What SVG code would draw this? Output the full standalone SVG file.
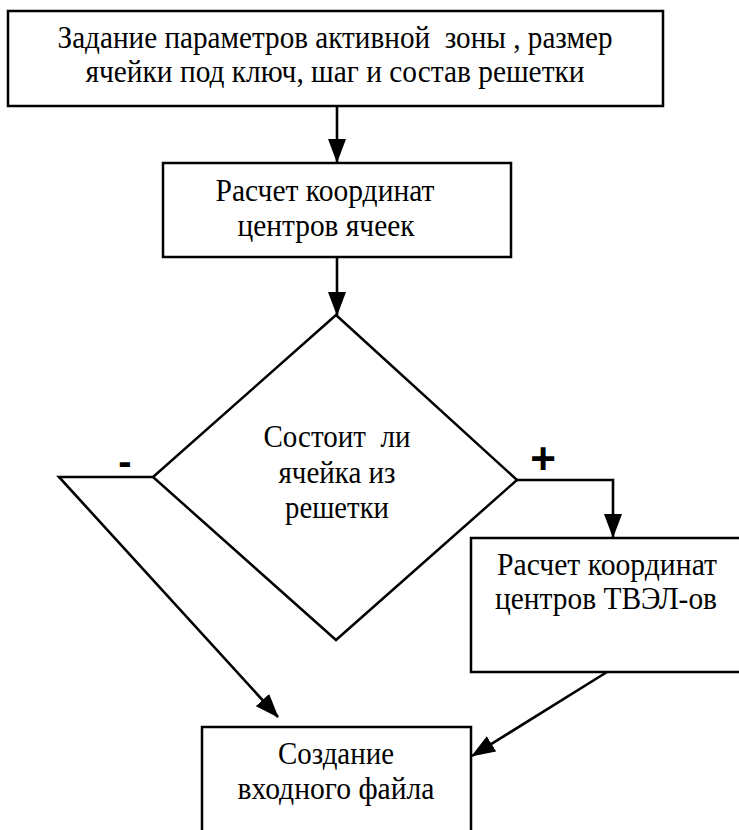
<svg xmlns="http://www.w3.org/2000/svg" width="739" height="830" viewBox="0 0 739 830">
<style>
.box{fill:#fff;stroke:#000;stroke-width:2.5}
.ln{fill:none;stroke:#000;stroke-width:2.6}
text{font-family:"Liberation Serif","Times New Roman",serif;font-size:32px;fill:#000;text-anchor:middle}
text.sm{font-size:31px}
text.minus{font-family:"Liberation Sans",Arial,sans-serif;font-weight:bold;font-size:40px}
text.plus{font-family:"Liberation Sans",Arial,sans-serif;font-weight:bold;font-size:44px}
</style>
<defs>
<marker id="arr" markerUnits="userSpaceOnUse" markerWidth="26" markerHeight="18" refX="23" refY="9" orient="auto">
<path d="M0,0 L24,9 L0,18 z" fill="#000"/>
</marker>
</defs>
<rect width="739" height="830" fill="#fff"/>
<g id="connectors">
<line class="ln" x1="337" y1="106" x2="337" y2="162" marker-end="url(#arr)"/>
<line class="ln" x1="337" y1="257" x2="337" y2="315" marker-end="url(#arr)"/>
<polyline class="ln" points="517,480 613,480 613,537" marker-end="url(#arr)"/>
<polyline class="ln" points="153,477 59,477 278,717" marker-end="url(#arr)"/>
<line class="ln" x1="607" y1="672" x2="472" y2="756" marker-end="url(#arr)"/>
<text class="minus" x="125" y="475">-</text>
<text class="plus" x="543" y="474">+</text>
</g>
<g id="start">
<rect class="box" x="8" y="11" width="655" height="95"/>
<text x="335" y="48" xml:space="preserve" textLength="555" lengthAdjust="spacingAndGlyphs">Задание параметров активной  зоны , размер</text>
<text x="335" y="82" textLength="499" lengthAdjust="spacingAndGlyphs">ячейки под ключ, шаг и состав решетки</text>
</g>
<g id="calc-cells">
<rect class="box" x="163" y="163" width="348" height="94"/>
<text x="325" y="201" textLength="219" lengthAdjust="spacingAndGlyphs">Расчет координат</text>
<text x="326" y="236" textLength="177" lengthAdjust="spacingAndGlyphs">центров ячеек</text>
</g>
<g id="decision">
<polygon class="box" points="336,315 517,480 336,640 153,477"/>
<text x="337" y="447" xml:space="preserve" textLength="147" lengthAdjust="spacingAndGlyphs">Состоит  ли</text>
<text x="337" y="483" textLength="117" lengthAdjust="spacingAndGlyphs">ячейка из</text>
<text x="337" y="518" textLength="104" lengthAdjust="spacingAndGlyphs">решетки</text>
</g>
<g id="calc-fuel">
<rect class="box" x="471" y="538" width="280" height="134"/>
<text x="607" y="575" textLength="220" lengthAdjust="spacingAndGlyphs">Расчет координат</text>
<text x="606" y="609" textLength="222" lengthAdjust="spacingAndGlyphs">центров ТВЭЛ-ов</text>
</g>
<g id="output-file">
<rect class="box" x="202" y="727" width="269" height="120"/>
<text class="sm" x="336" y="764" textLength="116" lengthAdjust="spacingAndGlyphs">Создание</text>
<text class="sm" x="336" y="799" textLength="197" lengthAdjust="spacingAndGlyphs">входного файла</text>
</g>
</svg>
